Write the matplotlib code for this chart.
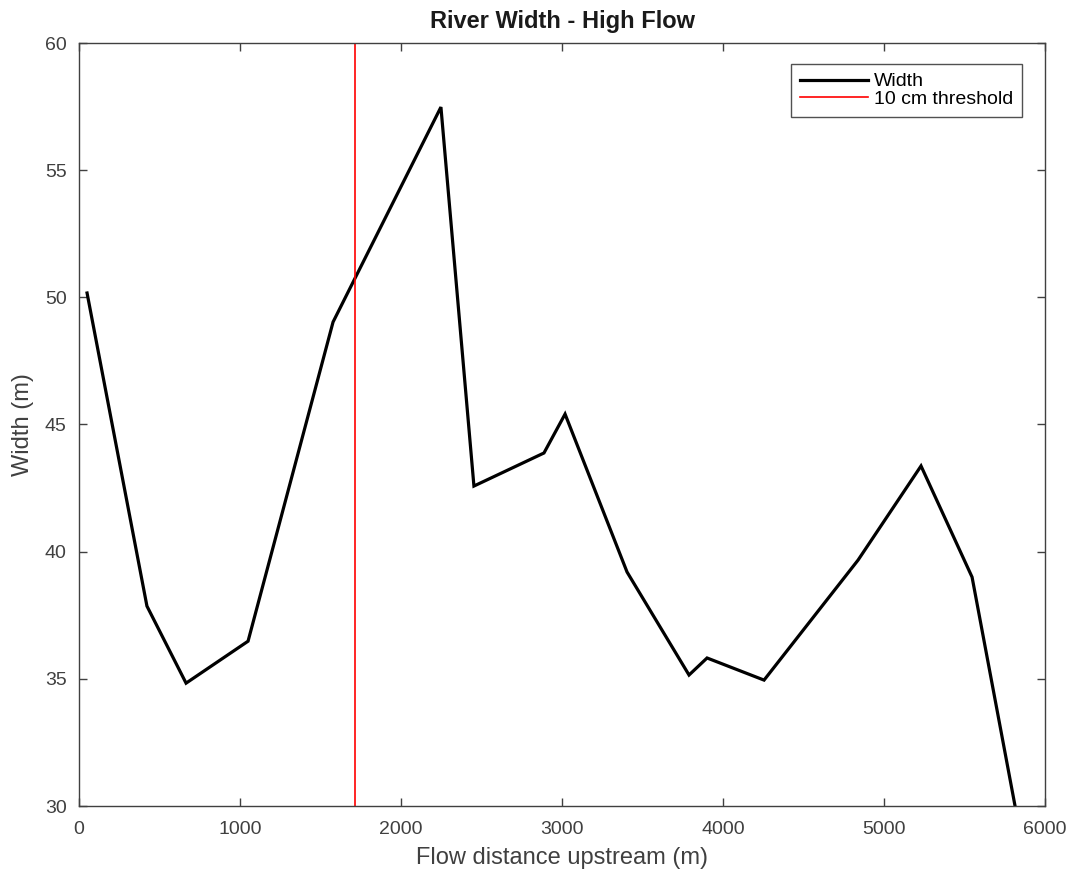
import matplotlib
matplotlib.use("Agg")
import matplotlib.pyplot as plt

plt.rcParams['font.family'] = ['Liberation Sans', 'DejaVu Sans']

distance = [50, 422, 665, 1050, 1578, 2248, 2453, 2888, 3019, 3404, 3789, 3901, 4255, 4839, 5230, 5547, 5814]
width = [50.17, 37.86, 34.83, 36.48, 49.03, 57.48, 42.58, 43.88, 45.41, 39.2, 35.15, 35.82, 34.95, 39.67, 43.37, 39.0, 30.0]
threshold_x = 1714
xticks = [0, 1000, 2000, 3000, 4000, 5000, 6000]
yticks = [30, 35, 40, 45, 50, 55, 60]

fig = plt.figure(figsize=(10.73, 8.71), dpi=100)
ax = fig.add_axes([79/1073, 1-806/871, (1045-79)/1073, (806-43)/871])
ax.plot(distance, width, color='black', lw=2.3, label='Width', solid_joinstyle='miter')
ax.axvline(threshold_x, color='red', lw=1.2, label='10 cm threshold')
ax.set_xlim(0, 6000)
ax.set_ylim(30, 60)
ax.set_xticks(xticks)
ax.set_yticks(yticks)
tc = '#404040'
ax.tick_params(direction='in', top=True, right=True, labelsize=14, colors=tc,
               labelcolor=tc, length=6, width=1)
ax.tick_params(axis='x', pad=11)
ax.tick_params(axis='y', pad=9)
for s in ax.spines.values():
    s.set_color(tc)
    s.set_linewidth(1)
ax.set_xlabel('Flow distance upstream (m)', fontsize=17, color=tc, labelpad=6)
ax.set_ylabel('Width (m)', fontsize=17, color=tc, labelpad=8)
ax.set_title('River Width - High Flow', fontsize=17, fontweight='bold', pad=11, color='#1a1a1a')
leg = ax.legend(loc='upper right', fontsize=14, frameon=True, fancybox=False,
                edgecolor='#262626', handlelength=3.5, handletextpad=0.3,
                borderpad=0.45, labelspacing=0.0, borderaxespad=0,
                bbox_to_anchor=(0.9762, 0.9725))
leg.get_frame().set_linewidth(1)
fig.savefig('out.png', dpi=100)
